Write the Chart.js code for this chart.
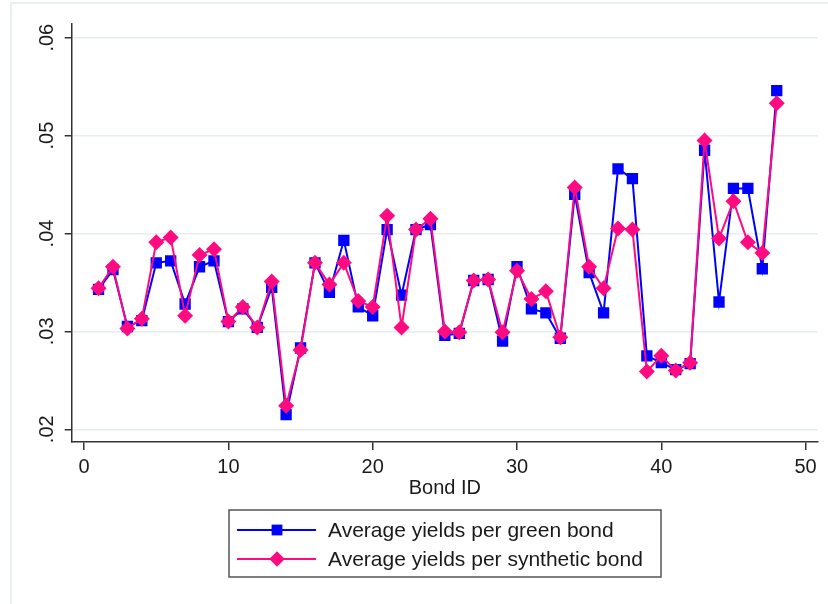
<!DOCTYPE html>
<html>
<head>
<meta charset="utf-8">
<script src="https://cdn.jsdelivr.net/npm/chart.js@4.4.1/dist/chart.umd.min.js"></script>
<style>
  html, body { margin: 0; padding: 0; background: #fff; }
  canvas { display: block; }
</style>
</head>
<body>
<canvas id="chart" width="828" height="604"></canvas>
<script>
// --- DATA ---
const bondIds = [1, 2, 3, 4, 5, 6, 7, 8, 9, 10, 11, 12, 13, 14, 15, 16, 17, 18, 19, 20, 21, 22, 23, 24,
    25, 26, 27, 28, 29, 30, 31, 32, 33, 34, 35, 36, 37, 38, 39, 40, 41, 42, 43, 44, 45, 46, 47, 48];

const greenYields = [0.0343, 0.0363, 0.0305, 0.0311, 0.0370, 0.0372, 0.0328, 0.0366, 0.0372, 0.0310,
    0.0323, 0.0304, 0.0345, 0.0215, 0.0283, 0.0370, 0.0340, 0.0393, 0.0325, 0.0316,
    0.0404, 0.0337, 0.0404, 0.0409, 0.0296, 0.0298, 0.0352, 0.0353, 0.0290, 0.0366,
    0.0323, 0.0319, 0.0293, 0.0440, 0.0360, 0.0319, 0.0466, 0.0456, 0.0275, 0.0268,
    0.0261, 0.0267, 0.0485, 0.0330, 0.0446, 0.0446, 0.0364, 0.0546];

const syntheticYields = [0.0344, 0.0366, 0.0303, 0.0313, 0.0391, 0.0396, 0.0316, 0.0378, 0.0384, 0.0310,
    0.0325, 0.0304, 0.0351, 0.0224, 0.0281, 0.0370, 0.0348, 0.0370, 0.0331, 0.0325,
    0.0418, 0.0304, 0.0404, 0.0415, 0.0300, 0.0299, 0.0352, 0.0353, 0.0299, 0.0362,
    0.0333, 0.0341, 0.0294, 0.0447, 0.0366, 0.0344, 0.0405, 0.0404, 0.0259, 0.0275,
    0.0260, 0.0268, 0.0495, 0.0395, 0.0433, 0.0391, 0.0380, 0.0533];

const xTicks = [0, 10, 20, 30, 40, 50];
const yTicks = [0.02, 0.03, 0.04, 0.05, 0.06];
const yTickLabels = ['.02', '.03', '.04', '.05', '.06'];

const seriesNames = ['Average yields per green bond', 'Average yields per synthetic bond'];

const BLUE = '#0000ff';
const PINK = '#ff0a80';
const FONT = '"Liberation Sans", Arial, sans-serif';
const TEXT = '#1a1a1a';

const toPoints = vals => bondIds.map((id, i) => ({ x: id, y: vals[i] }));

// Stata-like frame, rotated y labels and the boxed legend
const decor = {
    id: 'decor',
    beforeDraw(chart) {
        const ctx = chart.ctx;
        ctx.save();
        ctx.fillStyle = '#fff';
        ctx.fillRect(0, 0, chart.width, chart.height);
        ctx.strokeStyle = '#e4ecee';
        ctx.lineWidth = 1.5;
        ctx.beginPath();
        ctx.moveTo(11, chart.height + 5);
        ctx.lineTo(11, 3);
        ctx.lineTo(chart.width + 5, 3);
        ctx.stroke();
        ctx.restore();
    },
    afterDraw(chart) {
        const ctx = chart.ctx;
        const y = chart.scales.y;

        // y tick labels, read bottom to top
        ctx.save();
        ctx.fillStyle = TEXT;
        ctx.font = '20px ' + FONT;
        ctx.textAlign = 'center';
        ctx.textBaseline = 'alphabetic';
        yTicks.forEach((v, i) => {
            ctx.save();
            ctx.translate(53, y.getPixelForValue(v));
            ctx.rotate(-Math.PI / 2);
            ctx.fillText(yTickLabels[i], 0, 0);
            ctx.restore();
        });
        ctx.restore();

        // legend
        ctx.save();
        ctx.strokeStyle = '#555';
        ctx.lineWidth = 1.5;
        ctx.strokeRect(229, 510, 432, 67);
        const rows = [530, 559];
        const colors = [BLUE, PINK];
        rows.forEach((ry, i) => {
            ctx.strokeStyle = colors[i];
            ctx.lineWidth = 2;
            ctx.beginPath();
            ctx.moveTo(237, ry);
            ctx.lineTo(316, ry);
            ctx.stroke();
            ctx.fillStyle = colors[i];
            ctx.beginPath();
            if (i === 0) {
                ctx.rect(277 - 5.4, ry - 5.4, 10.8, 10.8);
            } else {
                ctx.moveTo(277, ry - 7.8);
                ctx.lineTo(284.8, ry);
                ctx.lineTo(277, ry + 7.8);
                ctx.lineTo(269.2, ry);
                ctx.closePath();
            }
            ctx.fill();
            ctx.fillStyle = TEXT;
            ctx.font = '21px ' + FONT;
            ctx.textAlign = 'left';
            ctx.textBaseline = 'middle';
            ctx.fillText(seriesNames[i], 328, ry + 1);
        });
        ctx.restore();
    }
};

new Chart(document.getElementById('chart'), {
    type: 'line',
    data: {
        datasets: [
            {
                label: seriesNames[0],
                data: toPoints(greenYields),
                borderColor: BLUE,
                backgroundColor: BLUE,
                borderWidth: 2,
                pointStyle: 'rect',
                pointRadius: 8,
                pointBorderWidth: 0,
                pointBackgroundColor: BLUE,
                tension: 0,
                order: 2
            },
            {
                label: seriesNames[1],
                data: toPoints(syntheticYields),
                borderColor: PINK,
                backgroundColor: PINK,
                borderWidth: 2,
                pointStyle: 'rectRot',
                pointRadius: 8,
                pointBorderWidth: 0,
                pointBackgroundColor: PINK,
                tension: 0,
                order: 1
            }
        ]
    },
    options: {
        responsive: false,
        devicePixelRatio: 1,
        animation: false,
        layout: { padding: { left: 0, top: 24, right: 10, bottom: 104 } },
        plugins: { legend: { display: false }, tooltip: { enabled: false } },
        scales: {
            x: {
                type: 'linear',
                min: -0.86,
                max: 50.86,
                afterBuildTicks: s => { s.ticks = xTicks.map(v => ({ value: v })); },
                afterFit: s => { s.height = 58; },
                grid: { drawOnChartArea: false, drawTicks: true, tickLength: 8, tickColor: '#333', lineWidth: 1.5 },
                border: { display: true, color: '#333', width: 1.5 },
                ticks: { color: TEXT, font: { family: FONT, size: 20 }, padding: 5, maxRotation: 0 },
                title: { display: true, text: 'Bond ID', color: TEXT, font: { family: FONT, size: 20 }, padding: 0 }
            },
            y: {
                min: 0.0187,
                max: 0.0614,
                afterBuildTicks: s => { s.ticks = yTicks.map(v => ({ value: v })); },
                afterFit: s => { s.width = 71.7; },
                grid: { color: '#e6eef0', lineWidth: 1.5, drawTicks: true, tickLength: 7, tickColor: '#333' },
                border: { display: true, color: '#333', width: 1.5 },
                ticks: { display: false }
            }
        }
    },
    plugins: [decor]
});
</script>
</body>
</html>
